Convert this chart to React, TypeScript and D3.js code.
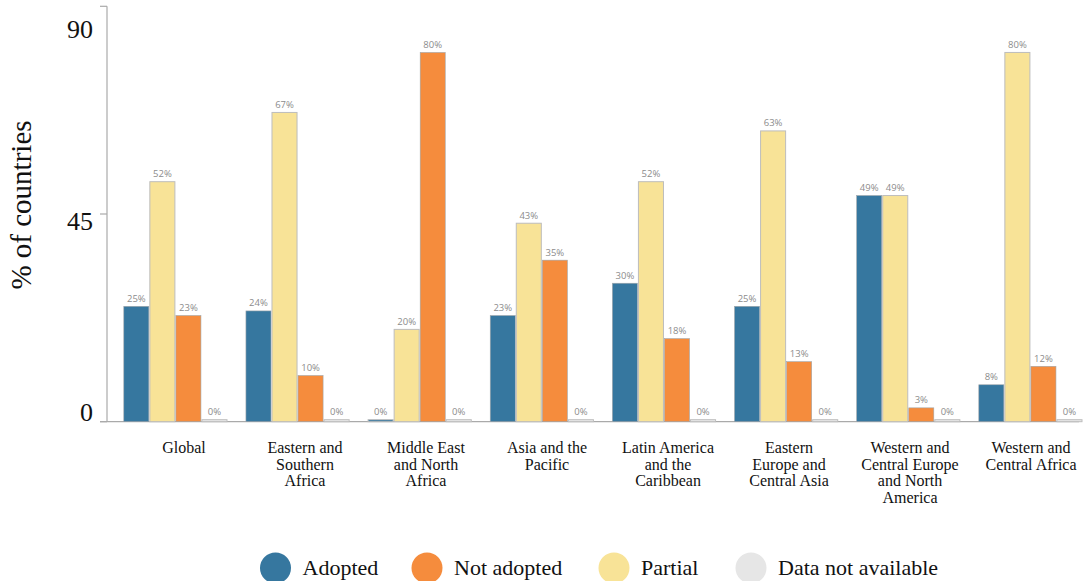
import React from "react";
import * as d3 from "d3";

const categories = [
  "Global",
  "Eastern and Southern Africa",
  "Middle East and North Africa",
  "Asia and the Pacific",
  "Latin America and the Caribbean",
  "Eastern Europe and Central Asia",
  "Western and Central Europe and North America",
  "Western and Central Africa",
];
const categoryLines = [
  ["Global"],
  ["Eastern and", "Southern", "Africa"],
  ["Middle East", "and North", "Africa"],
  ["Asia and the", "Pacific"],
  ["Latin America", "and the", "Caribbean"],
  ["Eastern", "Europe and", "Central Asia"],
  ["Western and", "Central Europe", "and North", "America"],
  ["Western and", "Central Africa"],
];
const adopted = [25, 24, 0, 23, 30, 25, 49, 8];
const partial = [52, 67, 20, 43, 52, 63, 49, 80];
const notAdopted = [23, 10, 80, 35, 18, 13, 3, 12];
const dataNA = [0, 0, 0, 0, 0, 0, 0, 0];
const yTicks = [0, 45, 90];

const barSeries = [
  { key: "Adopted", values: adopted, color: "#36779f" },
  { key: "Partial", values: partial, color: "#f8e397" },
  { key: "Not adopted", values: notAdopted, color: "#f58c3d" },
  { key: "Data not available", values: dataNA, color: "#eaeaea" },
];
const legendItems = [
  { key: "Adopted", color: "#36779f" },
  { key: "Not adopted", color: "#f58c3d" },
  { key: "Partial", color: "#f8e397" },
  { key: "Data not available", color: "#e6e6e6" },
];

const W = 1089;
const H = 581;
const serif = "'Liberation Serif', 'Times New Roman', serif";

export default function App() {
  const y = d3.scaleLinear().domain([0, 90]).range([421.7, 6.3]);
  const yLabel = d3.scaleLinear().domain([0, 90]).range([421, 38]);
  const x = d3
    .scaleBand<string>()
    .domain(categories)
    .range([123.3, 1082.5])
    .paddingInner(0.147)
    .paddingOuter(0);
  const xs = d3
    .scaleBand<string>()
    .domain(barSeries.map((s) => s.key))
    .range([0, x.bandwidth()])
    .padding(0);
  const xLabel = d3.scalePoint<string>().domain(categories).range([184, 1031]);
  const legendX = d3
    .scaleOrdinal<string, number>()
    .domain(legendItems.map((l) => l.key))
    .range([275.5, 427, 614, 751]);

  return (
    <svg
      width={W}
      height={H}
      style={{ position: "absolute", left: 0, top: 0, background: "#fff" }}
    >
      {/* y axis */}
      <line x1={107} x2={107} y1={y(90)} y2={y(0)} stroke="#aaa" strokeWidth={1.2} />
      {yTicks.map((t) => (
        <g key={t}>
          <line x1={100} x2={107} y1={y(t)} y2={y(t)} stroke="#aaa" strokeWidth={1.2} />
          <text
            x={93}
            y={yLabel(t)}
            textAnchor="end"
            fontFamily={serif}
            fontSize={26}
            fill="#111"
          >
            {t}
          </text>
        </g>
      ))}
      <text
        transform={`translate(31,205) rotate(-90)`}
        textAnchor="middle"
        fontFamily={serif}
        fontSize={29}
        fill="#111"
      >
        % of countries
      </text>
      {/* baseline */}
      <line x1={100} x2={1079} y1={y(0)} y2={y(0)} stroke="#aaa" strokeWidth={1.2} />

      {/* bars */}
      {categories.map((c, i) => (
        <g key={c} transform={`translate(${x(c)},0)`}>
          {barSeries.map((s) => {
            const v = s.values[i];
            const top = v === 0 ? y(0) - 2 : y(v);
            const h = y(0) - top;
            const bx = xs(s.key)!;
            const outlined = v === 0 || s.key === "Partial";
            return (
              <g key={s.key}>
                <rect
                  x={bx + 0.5}
                  y={top}
                  width={xs.bandwidth() - 1}
                  height={h}
                  fill={s.color}
                  stroke={outlined ? "#bdbdbd" : "#9fa6ab"}
                  strokeWidth={outlined ? 1 : 0.6}
                />
                <text
                  x={bx + xs.bandwidth() / 2}
                  y={top - 4.5}
                  textAnchor="middle"
                  fontFamily="'Open Sans', sans-serif"
                  fontSize={9.5}
                  fill="#8c8c8c"
                >
                  {v}%
                </text>
              </g>
            );
          })}
        </g>
      ))}

      {/* category labels */}
      {categories.map((c, i) => (
        <text
          key={c}
          x={xLabel(c)}
          y={453}
          textAnchor="middle"
          fontFamily={serif}
          fontSize={16}
          fill="#111"
        >
          {categoryLines[i].map((ln, j) => (
            <tspan key={j} x={xLabel(c)} dy={j === 0 ? 0 : 16.5}>
              {ln}
            </tspan>
          ))}
        </text>
      ))}

      {/* legend */}
      {legendItems.map((l) => (
        <g key={l.key}>
          <circle cx={legendX(l.key)} cy={568} r={15.5} fill={l.color} />
          <text
            x={legendX(l.key) + 27}
            y={575}
            fontFamily={serif}
            fontSize={22}
            fill="#111"
          >
            {l.key}
          </text>
        </g>
      ))}
    </svg>
  );
}
